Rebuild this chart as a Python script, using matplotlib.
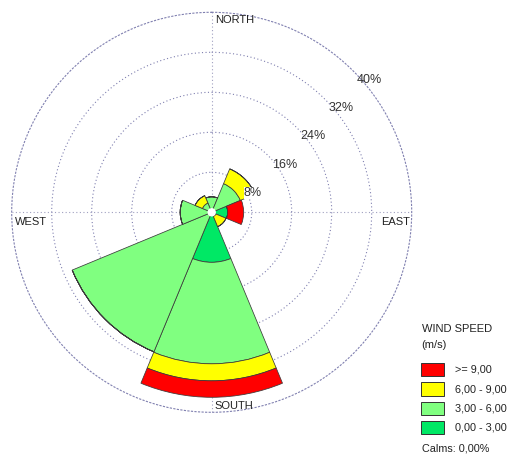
import numpy as np
import matplotlib
matplotlib.use("Agg")
import matplotlib.pyplot as plt
from matplotlib.patches import Rectangle

plt.rcParams['font.family'] = ['Liberation Sans', 'DejaVu Sans']

# Wind rose: frequency (%) per direction sector and speed class
directions = ["N", "NE", "E", "SE", "S", "SW", "W", "NW"]
dir_angles = [0, 45, 90, 135, 180, 225, 270, 315]
speed_classes = ["0,00 - 3,00", "3,00 - 6,00", "6,00 - 9,00", ">= 9,00"]
freq_0_3 = [0.0, 0.0, 3.2, 0.9, 10.0, 0.0, 0.0, 0.0]
freq_3_6 = [3.1, 6.2, 0.0, 0.0, 20.3, 30.2, 6.3, 2.0]
freq_6_9 = [0.0, 3.2, 0.0, 2.2, 3.4, 0.0, 0.0, 1.6]
freq_9_up = [0.0, 0.0, 3.2, 0.0, 3.3, 0.0, 0.0, 0.0]
class_colors = ["#00E865", "#80FF80", "#FFFF00", "#FF0000"]
ring_ticks = [8, 16, 24, 32, 40]
calms = "0,00%"

W, H = 508, 454
fig = plt.figure(figsize=(W / 100, H / 100), dpi=100)

cx, cy, R = 211.7, 212.3, 200.0
ax = fig.add_axes([(cx - R) / W, (H - cy - R) / H, 2 * R / W, 2 * R / H],
                  projection="polar")
ax.set_theta_zero_location("N")
ax.set_theta_direction(-1)
ax.set_ylim(0, ring_ticks[-1])

grid_col = "#8080b0"
dots = (0, (1, 2.2))
ax.set_rgrids(ring_ticks[:-1], labels=[""] * (len(ring_ticks) - 1))
ax.set_thetagrids([0, 90, 180, 270], labels=[""] * 4)
ax.yaxis.grid(True, color=grid_col, linestyle=dots, linewidth=0.8)
ax.xaxis.grid(True, color="#a0a0c0", linestyle=dots, linewidth=0.8)
ax.spines["polar"].set_linestyle(dots)
ax.spines["polar"].set_color(grid_col)
ax.spines["polar"].set_linewidth(0.8)
ax.tick_params(length=0)

theta = np.deg2rad(dir_angles)
width = np.deg2rad(45)
bottom = np.zeros(len(directions))
for vals, col in zip([freq_0_3, freq_3_6, freq_6_9, freq_9_up], class_colors):
    vals = np.array(vals)
    ax.bar(theta, vals, width=width, bottom=bottom, color=col,
           edgecolor="#3a3a3a", linewidth=0.55, zorder=3)
    bottom = bottom + vals

# small white hub in the centre
t = np.linspace(0, 2 * np.pi, 100)
ax.fill(t, np.full_like(t, 0.7), color="white", zorder=4)

px = 0.72  # points per pixel at dpi 100

# ring percentage labels
for r in ring_ticks:
    ax.annotate(f"{r}%", xy=(np.deg2rad(45), r), xytext=(4 * px, -3 * px),
                textcoords="offset points", ha="left", va="top",
                fontsize=9, color="#333333", zorder=5,
                bbox=dict(facecolor="white", edgecolor="none", pad=0.3) if r == 8 else None)

# compass labels
lab_kw = dict(textcoords="offset points", fontsize=8, color="#222222", zorder=5)
ax.annotate("NORTH", xy=(0, 40), xytext=(3 * px, -3 * px), ha="left", va="top", **lab_kw)
ax.annotate("WEST", xy=(np.deg2rad(270), 40), xytext=(3 * px, -4.5 * px), ha="left", va="top", **lab_kw)
ax.annotate("EAST", xy=(np.deg2rad(90), 40), xytext=(-2 * px, -4.5 * px), ha="right", va="top", **lab_kw)
ax.annotate("SOUTH", xy=(np.pi, 40), xytext=(3 * px, 1.5 * px), ha="left", va="bottom", **lab_kw)

# legend
def fy(y):
    return 1 - y / H

fig.text(421.7 / W, fy(329), "WIND SPEED", fontsize=8, va="center", ha="left", color="#222222")
fig.text(421.7 / W, fy(345), "(m/s)", fontsize=8, va="center", ha="left", color="#222222")
rows_y = [363, 382.3, 401.6, 420.9]
for yy, lab, col in zip(rows_y, speed_classes[::-1], class_colors[::-1]):
    fig.add_artist(Rectangle((420.7 / W, fy(yy + 13.2)), 23.6 / W, 13.2 / H,
                             facecolor=col, edgecolor="#333333", linewidth=0.7,
                             transform=fig.transFigure))
    fig.text(455 / W, fy(yy + 6.8), lab, fontsize=7.8, va="center", ha="left", color="#222222")
fig.text(421.7 / W, fy(448.5), f"Calms: {calms}", fontsize=7.8, va="center", ha="left", color="#222222")

fig.savefig("out.png", dpi=100)
